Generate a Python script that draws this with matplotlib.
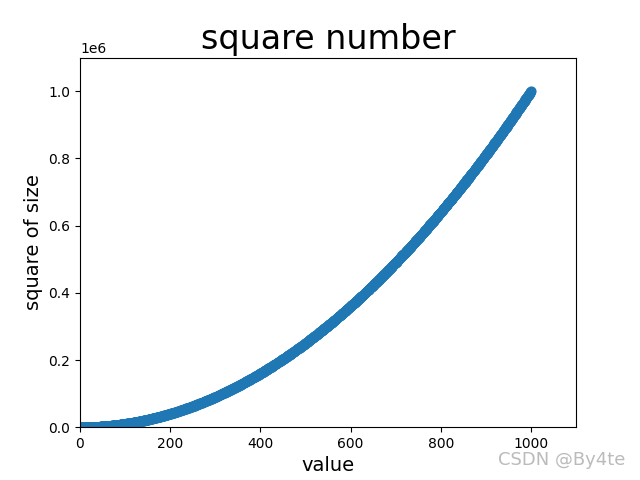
import matplotlib
matplotlib.use("Agg")
import matplotlib.pyplot as plt

# values 1..1000 and their squares (the chart plots square numbers)
x_values = list(range(1, 1001))
y_values = [x ** 2 for x in x_values]

fig, ax = plt.subplots(figsize=(6.4, 4.8), dpi=100)
ax.scatter(x_values, y_values, s=40, c="#1f77b4")

ax.set_title("square number", fontsize=24)
ax.set_xlabel("value", fontsize=14)
ax.set_ylabel("square of size", fontsize=14)
ax.axis([0, 1100, 0, 1100000])

# watermark
fig.text(0.977, 0.042, "CSDN @By4te", ha="right", va="center",
         fontsize=13, color="#bbbbbb")

plt.savefig("out.png")
